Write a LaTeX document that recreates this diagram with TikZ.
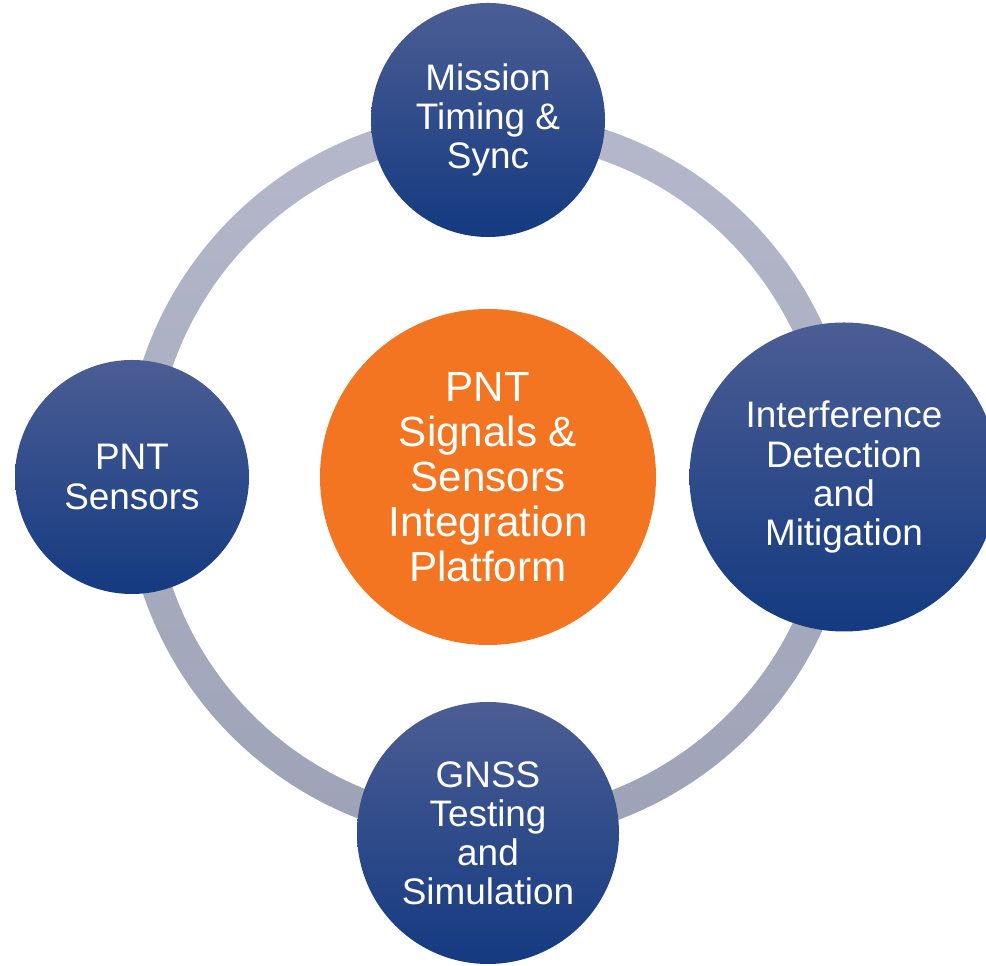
\documentclass[tikz,border=0pt]{standalone}
\usepackage{fontspec}
\setmainfont{Liberation Sans}
\usetikzlibrary{positioning}
\definecolor{navytop}{HTML}{4B5D94}
\definecolor{navybot}{HTML}{143A80}
\definecolor{ringtop}{HTML}{B4B8CA}
\definecolor{ringbot}{HTML}{9EA2B6}
\definecolor{hubfill}{HTML}{F47521}

\begin{document}
\begin{tikzpicture}[
			hub/.style={circle, fill=hubfill, minimum size=6.72cm, inner sep=0pt, align=center, text=white, font=\fontsize{24}{25.6}\selectfont},
			topic/.style={circle, top color=navytop, bottom color=navybot, inner sep=0pt, align=center, text=white, font=\fontsize{21}{22.2}\selectfont}
			]
			\useasboundingbox (0,0) rectangle (19.72,19.32);
			
			% Ring behind the topics
			\shade[top color=ringtop, bottom color=ringbot, even odd rule] (9.80,9.78) circle (7.32) (9.80,9.78) circle (6.72);
			
			% Core platform
			\node[hub] (platform) at (9.76,9.78) {PNT\\Signals \&\\Sensors\\Integration\\Platform};
			
			% Four topics on the ring
			\node[topic, minimum size=4.68cm] (timing) at (9.76,16.92) {Mission\\Timing \&\\Sync};
			\node[topic, minimum size=4.68cm] (sensors) at (2.64,9.78) {PNT\\Sensors};
			\node[topic, minimum size=6.18cm] (interference) at (16.88,9.78) {Interference\\Detection\\and\\Mitigation};
			\node[topic, minimum size=5.24cm] (gnss) at (9.76,2.66) {GNSS\\Testing\\and\\Simulation};
			
		\end{tikzpicture}
\end{document}
